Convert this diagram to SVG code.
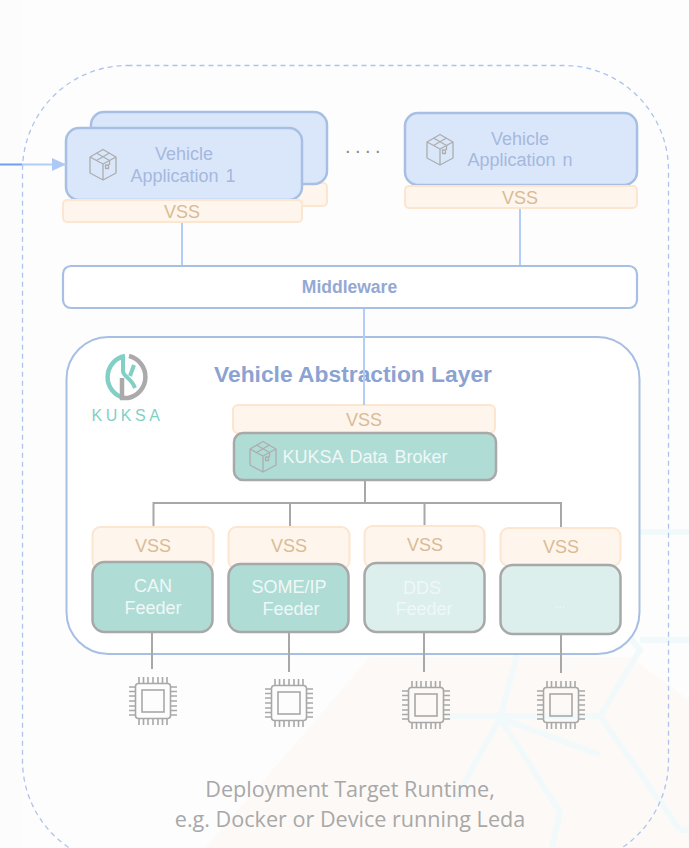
<svg xmlns="http://www.w3.org/2000/svg" width="689" height="848" viewBox="0 0 689 848">
<style>
text{font-family:"Liberation Sans",Arial,sans-serif;text-anchor:middle}
.app{fill:#dae7fb;stroke:#a8bfe4;stroke-width:2.500}
.vss{fill:#fef5ec;stroke:#fde6d0;stroke-width:2}
.vssl{fill:#d9bb95;font-size:18px}
.appt{fill:#a6b8dc;font-size:18px}
.feed{fill:#b0dcd6;stroke:#a8a8a8;stroke-width:2.500}
.feedp{fill:#dcefec;stroke:#a8a8a8;stroke-width:2.500}
.ft{fill:#eef8f6;font-size:18px}
.blue{stroke:#b2cdf7;stroke-width:2;fill:none}
.grey{stroke:#a8a8a8;stroke-width:2;fill:none}
.box{fill:none;stroke:#adadad;stroke-width:1.300;stroke-linejoin:round}
.chip{fill:none;stroke:#a8a8a8;stroke-width:1.600}
.hex{fill:none;stroke:#f2f9fa;stroke-width:6}
.dep{font-family:"Open Sans","Noto Sans",sans-serif;font-size:21.600px;fill:#a8a8a8}
</style>
<defs>
<marker id="arrow" markerUnits="userSpaceOnUse" markerWidth="15" markerHeight="15" refX="14" refY="7" orient="auto"><path d="M0 0.500L14 7L0 13.500Z" fill="#adc9f6"/></marker>
<g id="cube">
<path class="box" d="M0-15.500L13-8V8L0 15L-13 8V-8Z M-13-8L0-1L13-8 M0-1V15"/>
<path class="box" d="M-6.500-12L6.500-4.500V0 M6.500-12L-6.500-4.500"/>
<rect x="2.500" y="0" width="3" height="3.500" class="box"/>
</g>
<g id="chip">
<rect x="-17.500" y="-17.500" width="35" height="35" rx="3" class="chip"/>
<rect x="-11" y="-11" width="22" height="22" class="chip"/>
<path class="chip" d="M-14-24V-18M-9.500-24V-18M-5-24V-18M0-24V-18M5-24V-18M9.500-24V-18M14-24V-18M-14 18V24M-9.500 18V24M-5 18V24M0 18V24M5 18V24M9.500 18V24M14 18V24M-24-14H-18M-24-9.500H-18M-24-5H-18M-24 0H-18M-24 5H-18M-24 9.500H-18M-24 14H-18M18-14H24M18-9.500H24M18-5H24M18 0H24M18 5H24M18 9.500H24M18 14H24"/>
</g>
</defs>
<rect width="689" height="848" fill="#fcfcfc"/>
<rect x="22" y="0" width="667" height="848" fill="#fdfdfd"/>
<g id="background">
<path d="M205 848L370 657H630L689 700V848Z" fill="#fdf9f6"/>
<path class="hex" d="M689 532H625L600 600L640 650L600 716H450M600 716L680 830M680 830H689M517 655L500 718L455 800M500 718L560 812L552 848M689 640H640M500 718L600 755"/>
</g>
<rect id="deployment-target" x="22.500" y="65.500" width="646" height="800" rx="105" fill="none" stroke="#adc4ec" stroke-width="1.300" stroke-dasharray="5 4"/>
<g id="app-1-back">
<rect x="91" y="183" width="236" height="23" rx="4" class="vss"/>
<rect x="91" y="112" width="236" height="72" rx="13" class="app"/>
</g>
<g id="app-1">
<rect x="66" y="128" width="236" height="72" rx="13" class="app"/>
<use href="#cube" x="103" y="165"/>
<text class="appt" x="184" y="160">Vehicle</text>
<text class="appt" x="183" y="182" word-spacing="2">Application 1</text>
<rect x="63" y="200" width="239" height="22" rx="4" class="vss"/>
<text class="vssl" x="182" y="217.500">VSS</text>
</g>
<text id="ellipsis" x="365" y="153" fill="#8c8c8c" font-size="20" letter-spacing="4.500">....</text>
<g id="app-n">
<rect x="405" y="113" width="232" height="72" rx="13" class="app"/>
<use href="#cube" x="440" y="150"/>
<text class="appt" x="520" y="145">Vehicle</text>
<text class="appt" x="520" y="166" word-spacing="2">Application n</text>
<rect x="405" y="186" width="232" height="22" rx="4" class="vss"/>
<text class="vssl" x="520" y="203.500">VSS</text>
</g>
<g id="middleware">
<rect x="63" y="266" width="574" height="42" rx="8" fill="#fff" stroke="#a8bfe4" stroke-width="2.200"/>
<text x="349.500" y="292.500" fill="#93a9d4" font-size="17.500" font-weight="bold">Middleware</text>
</g>
<g id="vehicle-abstraction-layer">
<rect x="66.500" y="337" width="573" height="317" rx="42" fill="#fff" stroke="#a8bfe4" stroke-width="2"/>
<text x="353" y="382" fill="#8ba3d2" font-size="22.800" font-weight="bold">Vehicle Abstraction Layer</text>
</g>
<g id="kuksa-logo">
<path d="M125 356A21.500 21.500 0 0 0 124 398" fill="none" stroke="#82d0c5" stroke-width="4.500"/>
<path d="M129 356A21.500 21.500 0 0 1 128 398H122V378" fill="none" stroke="#aaaaaa" stroke-width="4.500"/>
<path d="M123 355V371C123 377 131 377 135 388M134 365L130 376" fill="none" stroke="#82d0c5" stroke-width="4"/>
<text x="127.500" y="421" fill="#82d0c5" font-size="16" letter-spacing="3.600">KUKSA</text>
</g>
<g id="data-broker">
<rect x="233" y="405" width="262" height="28" rx="5" class="vss"/>
<text class="vssl" x="364" y="425.500">VSS</text>
<rect x="234" y="433" width="262" height="47" rx="9" class="feed"/>
<use href="#cube" x="263" y="457"/>
<text class="ft" x="365" y="463" word-spacing="2">KUKSA Data Broker</text>
</g>
<g id="can-feeder">
<rect x="92.500" y="527" width="121" height="42" rx="8" class="vss"/>
<text class="vssl" x="153" y="552">VSS</text>
<rect x="92.500" y="562" width="120" height="70" rx="12" class="feed"/>
<text class="ft" x="153" y="592">CAN</text>
<text class="ft" x="153" y="614">Feeder</text>
</g>
<g id="someip-feeder">
<rect x="228.500" y="527" width="121" height="42" rx="8" class="vss"/>
<text class="vssl" x="289" y="552">VSS</text>
<rect x="228.500" y="564" width="120" height="68" rx="12" class="feed"/>
<text class="ft" x="289" y="593">SOME/IP</text>
<text class="ft" x="291" y="615">Feeder</text>
</g>
<g id="dds-feeder">
<rect x="364.500" y="526" width="120" height="42" rx="8" class="vss"/>
<text class="vssl" x="425" y="551">VSS</text>
<rect x="364.500" y="563" width="120" height="69" rx="12" class="feedp"/>
<text class="ft" x="422" y="594">DDS</text>
<text class="ft" x="424" y="615">Feeder</text>
</g>
<g id="other-feeder">
<rect x="500.500" y="528" width="120" height="38" rx="8" class="vss"/>
<text class="vssl" x="561" y="553">VSS</text>
<rect x="500.500" y="565" width="120" height="69" rx="12" class="feedp"/>
<text class="ft" x="560" y="608" style="font-size:13px">...</text>
</g>
<g id="chips">
<use href="#chip" x="153" y="701"/>
<use href="#chip" x="289" y="703"/>
<use href="#chip" x="426" y="705"/>
<use href="#chip" x="561" y="705"/>
</g>
<g id="connectors">
<path d="M0 164.500H22" stroke="#6f9ff0" stroke-width="2" fill="none"/>
<path class="blue" d="M22 164.500H66" marker-end="url(#arrow)"/>
<path class="blue" d="M182 223V265M520 209V265M364 309V405"/>
<path class="grey" d="M365 481V503M153.500 526V503H561V527M290 503V526M424.500 503V525M152 633V669M289 633V672M424 633V672M561 633V673"/>
</g>
<g id="deployment-label">
<text class="dep" x="350" y="797">Deployment Target Runtime,</text>
<text class="dep" x="350" y="827">e.g. Docker or Device running Leda</text>
</g>
</svg>
